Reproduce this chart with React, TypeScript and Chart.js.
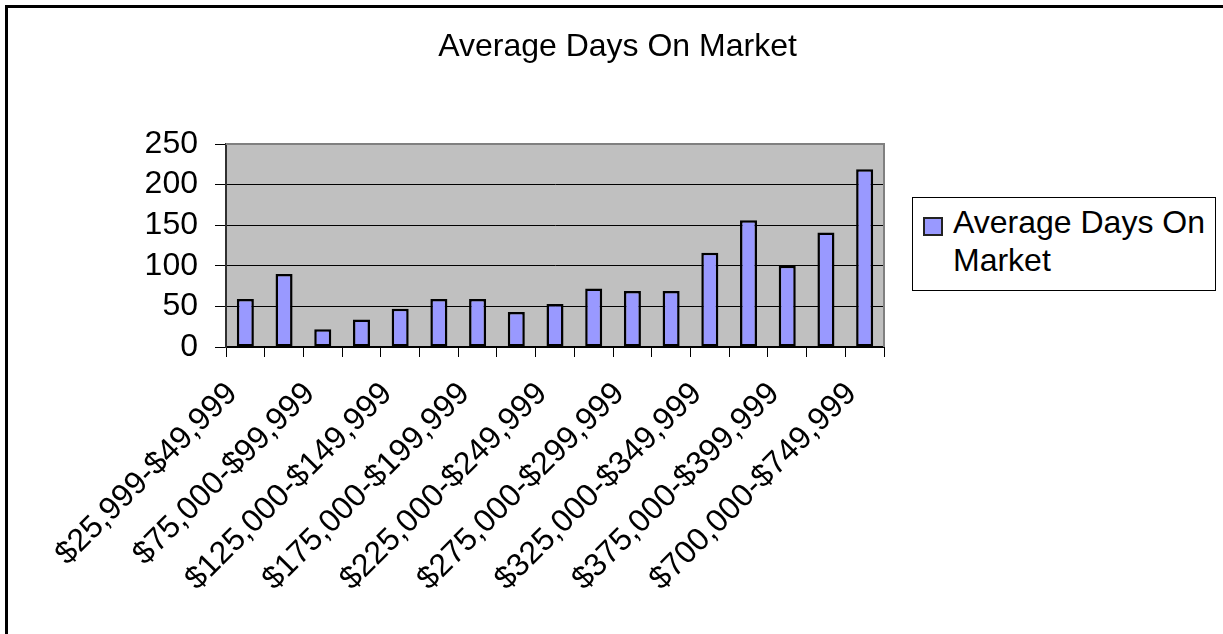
import React, { useEffect, useRef } from "react";
import { Chart, registerables } from "chart.js";

Chart.register(...registerables);

const TITLE = "Average Days On Market";
const SERIES_LABEL = "Average Days On Market";
const categories = [
  "$25,999-$49,999",
  "$50,000-$74,999",
  "$75,000-$99,999",
  "$100,000-$124,999",
  "$125,000-$149,999",
  "$150,000-$174,999",
  "$175,000-$199,999",
  "$200,000-$224,999",
  "$225,000-$249,999",
  "$250,000-$274,999",
  "$275,000-$299,999",
  "$300,000-$324,999",
  "$325,000-$349,999",
  "$350,000-$374,999",
  "$375,000-$399,999",
  "$400,000-$699,999",
  "$700,000-$749,999",
];
const values = [59, 90, 22, 34, 47, 59, 59, 43, 53, 72, 69, 69, 116, 156, 100, 141, 219];
const yMin = 0;
const yMax = 250;
const yStep = 50;

const FONT = "'Liberation Sans', Arial, Helvetica, sans-serif";
const BAR_FILL = "#9999FF";
const PLOT_BG = "#C0C0C0";

const plotBg = {
  id: "plotBg",
  beforeDraw(chart: any) {
    const { ctx, chartArea: a } = chart;
    ctx.save();
    ctx.fillStyle = PLOT_BG;
    ctx.fillRect(a.left, a.top, a.right - a.left, a.bottom - a.top);
    ctx.restore();
  },
  beforeDatasetsDraw(chart: any) {
    const { ctx, chartArea: a } = chart;
    ctx.save();
    ctx.strokeStyle = "#808080";
    ctx.lineWidth = 2;
    ctx.beginPath();
    ctx.moveTo(a.left, a.top);
    ctx.lineTo(a.right, a.top);
    ctx.lineTo(a.right, a.bottom);
    ctx.stroke();
    ctx.restore();
  },
};

export default function App() {
  const ref = useRef<HTMLCanvasElement>(null);

  useEffect(() => {
    if (!ref.current) return;
    const chart = new Chart(ref.current, {
      type: "bar",
      data: {
        labels: categories,
        datasets: [
          {
            label: SERIES_LABEL,
            data: values,
            backgroundColor: BAR_FILL,
            borderColor: "#000000",
            borderWidth: 2.5,
            borderSkipped: false,
            barPercentage: 0.44,
            categoryPercentage: 1,
          },
        ],
      },
      options: {
        responsive: false,
        animation: false,
        devicePixelRatio: 1,
        layout: { padding: { left: 12, right: 0, top: 0, bottom: 0 } },
        plugins: {
          legend: { display: false },
          tooltip: { enabled: false },
          title: {
            display: true,
            text: TITLE,
            color: "#000",
            font: { family: FONT, size: 32, weight: "normal" },
            padding: { top: 28, bottom: 77.6 },
          },
        },
        scales: {
          x: {
            position: "bottom",
            grid: {
              offset: true,
              drawOnChartArea: false,
              drawTicks: true,
              tickLength: 10,
              color: "#000",
            },
            border: { display: true, color: "#000", width: 2 },
            ticks: {
              autoSkip: false,
              minRotation: 45,
              maxRotation: 45,
              padding: 18,
              labelOffset: -13,
              color: "#000",
              font: { family: FONT, size: 32 },
              callback: (_v: any, i: number) => (i % 2 === 0 ? categories[i] : ""),
            },
            afterFit: (s: any) => {
              s.height = 287;
            },
          },
          y: {
            position: "left",
            min: yMin,
            max: yMax,
            grid: {
              color: (c: any) => (c.tick && c.tick.value === yMax ? "#808080" : "#000"),
              tickColor: "#000",
              tickLength: 11,
              lineWidth: 1,
            },
            border: { display: true, color: "#303030", width: 2 },
            ticks: {
              stepSize: yStep,
              autoSkip: false,
              padding: 17,
              color: "#000",
              font: { family: FONT, size: 32 },
            },
            afterFit: (s: any) => {
              s.width = 214;
            },
          },
          spacer: {
            type: "linear",
            position: "right",
            display: true,
            grid: { display: false, drawTicks: false },
            border: { display: false },
            ticks: { display: false },
            afterFit: (s: any) => {
              s.width = 339;
            },
          },
        },
      },
      plugins: [plotBg],
    } as any);
    return () => chart.destroy();
  }, []);

  return (
    <div
      style={{
        position: "fixed",
        left: 0,
        top: 0,
        width: 1223,
        height: 634,
        overflow: "hidden",
        background: "#fff",
      }}
    >
      <div
        style={{
          position: "absolute",
          left: 5,
          top: 5,
          width: 1400,
          height: 800,
          border: "3px solid #000",
        }}
      />
      <canvas
        ref={ref}
        width={1223}
        height={634}
        style={{ position: "absolute", left: 0, top: 0, width: 1223, height: 634 }}
      />
      <div
        style={{
          position: "absolute",
          left: 912,
          top: 197,
          width: 304,
          height: 94,
          boxSizing: "border-box",
          border: "1.5px solid #000",
          background: "#fff",
        }}
      />
      <div
        style={{
          position: "absolute",
          left: 923,
          top: 217,
          width: 20,
          height: 19,
          boxSizing: "border-box",
          border: "2px solid #222",
          background: BAR_FILL,
        }}
      />
      <div
        style={{
          position: "absolute",
          left: 953,
          top: 203,
          width: 262,
          fontFamily: FONT,
          fontSize: 32,
          lineHeight: "38px",
          color: "#000",
        }}
      >
        {SERIES_LABEL}
      </div>
    </div>
  );
}
